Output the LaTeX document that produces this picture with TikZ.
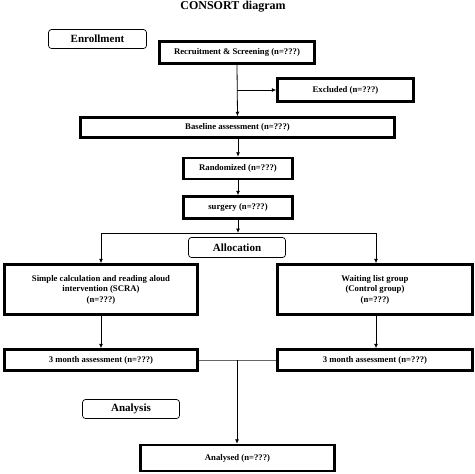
\documentclass[tikz,border=0pt]{standalone}
\usepackage{fontspec}
\setmainfont{Liberation Serif}
\usetikzlibrary{arrows.meta}
\begin{document}
\begin{tikzpicture}[x=1pt,y=-1pt,
  box/.style={draw,line width=2.5pt,inner sep=1pt,align=center,font=\bfseries\fontsize{8.7}{10.5}\selectfont},
  stage/.style={draw,line width=0.7pt,rounded corners=3pt,inner sep=1pt,font=\bfseries\fontsize{11}{13}\selectfont},
  conn/.style={line width=0.8pt,-{Latex[length=4.5pt,width=4pt]}},
  plain/.style={line width=0.8pt}]
\useasboundingbox (0,0) rectangle (475,474);
\node[font=\bfseries\fontsize{12}{14}\selectfont,inner sep=0pt,anchor=base] (title) at (233,9.8) {CONSORT diagram};
\node[stage,minimum width=98pt,minimum height=19pt] (enr) at (97.5,39) {Enrollment};
\node[box,minimum width=155pt,minimum height=22pt] (rec) at (237,52.5) {Recruitment \& Screening (n=???)};
\node[box,minimum width=136pt,minimum height=23pt] (exc) at (345.5,90) {Excluded (n=???)};
\node[box,minimum width=314pt,minimum height=20pt] (base) at (237.5,127.5) {Baseline assessment (n=???)};
\node[box,minimum width=109pt,minimum height=21pt] (rand) at (238,168.5) {Randomized (n=???)};
\node[box,minimum width=109pt,minimum height=22pt] (surg) at (238,207.5) {surgery (n=???)};
\node[stage,minimum width=97pt,minimum height=20pt] (alloc) at (237,247.5) {Allocation};
\node[box,minimum width=193pt,minimum height=50pt] (scra) at (101,289.5) {Simple calculation and reading aloud\\intervention (SCRA)\\(n=???)};
\node[box,minimum width=195pt,minimum height=50pt] (wait) at (375,289.5) {Waiting list group\\(Control group)\\(n=???)};
\node[box,minimum width=193pt,minimum height=21pt] (m3l) at (101,360) {3 month assessment (n=???)};
\node[box,minimum width=195pt,minimum height=21pt] (m3r) at (375,360) {3 month assessment (n=???)};
\node[stage,minimum width=97pt,minimum height=19pt] (ana) at (131,409) {Analysis};
\node[box,minimum width=194pt,minimum height=26pt] (anad) at (237.5,458) {Analysed (n=???)};
\coordinate (exb) at (237,90);
\coordinate (split) at (238,233);
\coordinate (sl) at (101,233);
\coordinate (sr) at (376,233);
\coordinate (join) at (237,360);
\draw[conn] (rec.south) -- (base.north);
\draw[conn] (exb) -- (exc.west);
\draw[conn] (base.south -| rand) -- (rand.north);
\draw[conn] (rand.south) -- (surg.north);
\draw[conn] (surg.south) -- (split);
\draw[plain] (sl) -- (sr);
\draw[conn] (sl) -- (scra.north -| sl);
\draw[conn] (sr) -- (wait.north -| sr);
\draw[conn] (scra.south) -- (m3l.north);
\draw[conn] (wait.south -| sr) -- (m3r.north -| sr);
\draw[plain,black!60] (m3l.east) -- (m3r.west);
\draw[conn] (join) -- (anad.north -| join);
\end{tikzpicture}
\end{document}
